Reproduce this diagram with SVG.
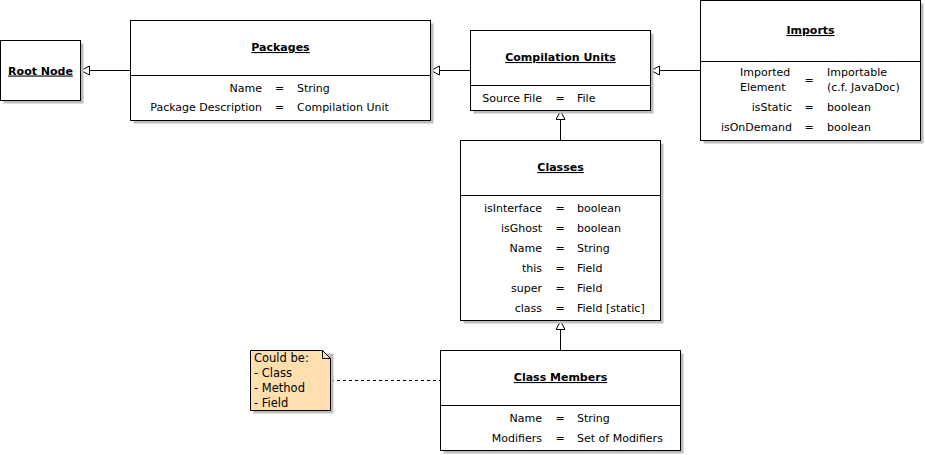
<svg xmlns="http://www.w3.org/2000/svg" width="925" height="455" viewBox="0 0 925 455">
<defs>
<style>
text{font-family:"DejaVu Sans","Liberation Sans",sans-serif;font-size:11px;fill:#000}
.t{font-weight:bold;text-anchor:middle;text-decoration:underline}
.r{text-anchor:end}
.m{text-anchor:middle}
.box{fill:#fff;stroke:#000;stroke-width:1}
.sh{fill:#bdbdbd}
.div{stroke:#000;stroke-width:1}
.c{stroke:#000;stroke-width:1;fill:none}
.note text{font-size:11.5px}
</style>
<marker id="tri" markerUnits="userSpaceOnUse" markerWidth="11" markerHeight="11" refX="9.5" refY="5" orient="auto" viewBox="0 0 11 11">
<path d="M9.5,5 L1,0.5 L1,9.5 Z" fill="#fff" stroke="#000" stroke-width="1"/>
</marker>
</defs>
<rect width="925" height="455" fill="#fff"/>

<g id="connectors">
<line class="c" x1="130" y1="70.5" x2="81" y2="70.5" marker-end="url(#tri)"/>
<line class="c" x1="470" y1="70.5" x2="431" y2="70.5" marker-end="url(#tri)"/>
<line class="c" x1="700" y1="70.5" x2="651" y2="70.5" marker-end="url(#tri)"/>
<line class="c" x1="560.5" y1="140" x2="560.5" y2="111" marker-end="url(#tri)"/>
<line class="c" x1="560.5" y1="350" x2="560.5" y2="321" marker-end="url(#tri)"/>
<line class="c" x1="331" y1="380.5" x2="440" y2="380.5" stroke-dasharray="3,3"/>
</g>

<g id="root-node">
<rect class="sh" x="3.5" y="43.5" width="80" height="60"/>
<rect class="box" x="0.5" y="40.5" width="80" height="60"/>
<text class="t" x="40.5" y="74.5">Root Node</text>
</g>

<g id="packages">
<rect class="sh" x="133.5" y="23.5" width="300" height="100"/>
<rect class="box" x="130.5" y="20.5" width="300" height="100"/>
<line class="div" x1="130.5" y1="75.5" x2="430.5" y2="75.5"/>
<text class="t" x="280.5" y="51">Packages</text>
<text class="r" x="262" y="92">Name</text><text class="m" x="279.5" y="92">=</text><text x="297" y="92">String</text>
<text class="r" x="262" y="111">Package Description</text><text class="m" x="279.5" y="111">=</text><text x="297" y="111">Compilation Unit</text>
</g>

<g id="compilation-units">
<rect class="sh" x="473.5" y="33.5" width="180" height="80"/>
<rect class="box" x="470.5" y="30.5" width="180" height="80"/>
<line class="div" x1="470.5" y1="85.5" x2="650.5" y2="85.5"/>
<text class="t" x="560.5" y="61">Compilation Units</text>
<text class="r" x="542" y="102">Source File</text><text class="m" x="560" y="102">=</text><text x="577" y="102">File</text>
</g>

<g id="imports">
<rect class="sh" x="703.5" y="3.5" width="220" height="140"/>
<rect class="box" x="700.5" y="0.5" width="220" height="140"/>
<line class="div" x1="700.5" y1="61.5" x2="920.5" y2="61.5"/>
<text class="t" x="810.5" y="34">Imports</text>
<text x="740" y="76">Imported</text><text x="740" y="91">Element</text>
<text class="m" x="809" y="84">=</text>
<text x="827" y="76">Importable</text><text x="827" y="91">(c.f. JavaDoc)</text>
<text class="r" x="792" y="111">isStatic</text><text class="m" x="809" y="111">=</text><text x="827" y="111">boolean</text>
<text class="r" x="792" y="131">isOnDemand</text><text class="m" x="809" y="131">=</text><text x="827" y="131">boolean</text>
</g>

<g id="classes">
<rect class="sh" x="463.5" y="143.5" width="200" height="180"/>
<rect class="box" x="460.5" y="140.5" width="200" height="180"/>
<line class="div" x1="460.5" y1="195.5" x2="660.5" y2="195.5"/>
<text class="t" x="560.5" y="171">Classes</text>
<text class="r" x="542" y="212">isInterface</text><text class="m" x="560" y="212">=</text><text x="577" y="212">boolean</text>
<text class="r" x="542" y="232">isGhost</text><text class="m" x="560" y="232">=</text><text x="577" y="232">boolean</text>
<text class="r" x="542" y="252">Name</text><text class="m" x="560" y="252">=</text><text x="577" y="252">String</text>
<text class="r" x="542" y="272">this</text><text class="m" x="560" y="272">=</text><text x="577" y="272">Field</text>
<text class="r" x="542" y="292">super</text><text class="m" x="560" y="292">=</text><text x="577" y="292">Field</text>
<text class="r" x="542" y="312">class</text><text class="m" x="560" y="312">=</text><text x="577" y="312">Field [static]</text>
</g>

<g id="class-members">
<rect class="sh" x="443.5" y="353.5" width="240" height="100"/>
<rect class="box" x="440.5" y="350.5" width="240" height="100"/>
<line class="div" x1="440.5" y1="405.5" x2="680.5" y2="405.5"/>
<text class="t" x="560.5" y="381">Class Members</text>
<text class="r" x="542" y="422">Name</text><text class="m" x="560" y="422">=</text><text x="577" y="422">String</text>
<text class="r" x="542" y="442">Modifiers</text><text class="m" x="560" y="442">=</text><text x="577" y="442">Set of Modifiers</text>
</g>

<g id="note" class="note">
<path d="M253.5,353.5 H333.5 V413.5 H253.5 Z" fill="#bdbdbd"/>
<path d="M250.5,350.5 H322.5 L330.5,358.5 V410.5 H250.5 Z" fill="#ffdfae" stroke="#000" stroke-width="1"/>
<path d="M322.5,350.5 V358.5 H330.5" fill="none" stroke="#000" stroke-width="1"/>
<text x="254" y="362">Could be:</text>
<text x="254" y="377">- Class</text>
<text x="254" y="392">- Method</text>
<text x="254" y="407">- Field</text>
</g>
</svg>
